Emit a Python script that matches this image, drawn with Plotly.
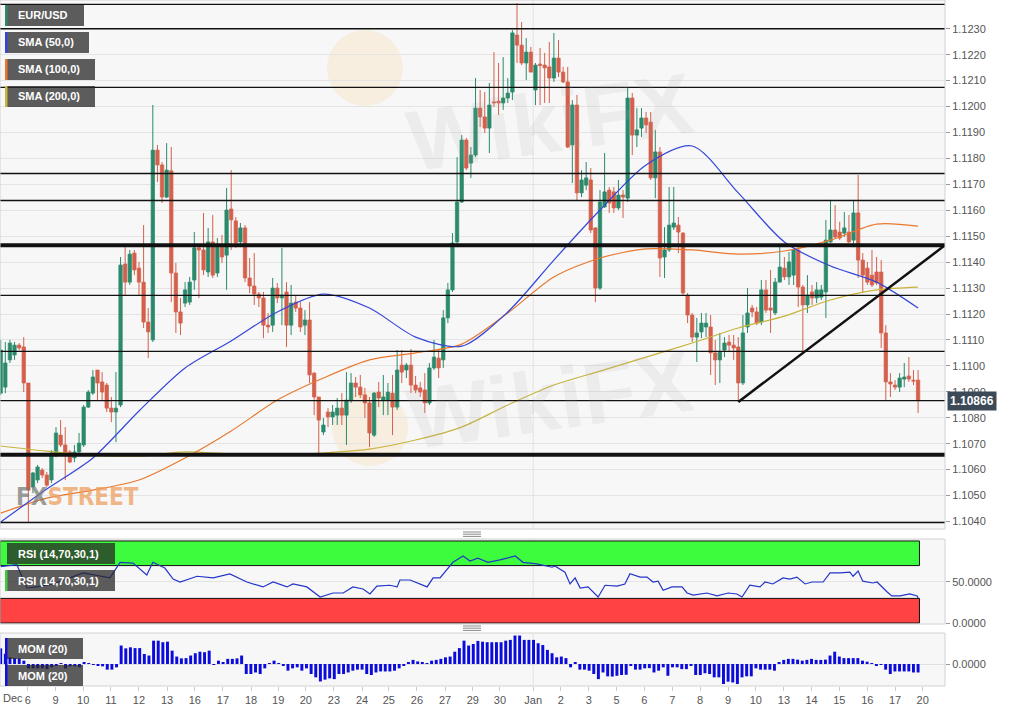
import plotly.graph_objects as go

# ---------------- DATA (EUR/USD, 4h candles, Dec 6 - Jan 20) ----------------
opens = [
1.10895, 1.10918, 1.11023, 1.11042, 1.11080, 1.11073, 1.10934, 1.10533, 1.10560, 1.10598,
1.10579, 1.10560, 1.10656, 1.10733, 1.10695, 1.10668, 1.10645, 1.10668, 1.10695, 1.10841,
1.10895, 1.10984, 1.10938, 1.10926, 1.10837, 1.10822, 1.10849, 1.11393, 1.11323, 1.11435,
1.11377, 1.11323, 1.11169, 1.11100, 1.11832, 1.11775, 1.11651, 1.11752, 1.11358, 1.11208,
1.11242, 1.11246, 1.11331, 1.11455, 1.11447, 1.11362, 1.11478, 1.11358, 1.11458, 1.11427,
1.11605, 1.11559, 1.11478, 1.11532, 1.11339, 1.11308, 1.11277, 1.11262, 1.11157, 1.11157,
1.11300, 1.11262, 1.11285, 1.11157, 1.11246, 1.11223, 1.11157, 1.11177, 1.10972, 1.10880,
1.10745, 1.10822, 1.10803, 1.10810, 1.10837, 1.10810, 1.10868, 1.10934, 1.10918, 1.10888,
1.10857, 1.10733, 1.10899, 1.10868, 1.10868, 1.10895, 1.10841, 1.11003, 1.10984, 1.11003,
1.10926, 1.10915, 1.10907, 1.10857, 1.10992, 1.11030, 1.11023, 1.11185, 1.11293, 1.11478,
1.11632, 1.11871, 1.11782, 1.11813, 1.11994, 1.11960, 1.11917, 1.12018, 1.12021, 1.12014,
1.12033, 1.12056, 1.12276, 1.12237, 1.12168, 1.12210, 1.12064, 1.12164, 1.12160, 1.12153,
1.12110, 1.12187, 1.12133, 1.12095, 1.11852, 1.12006, 1.11667, 1.11697, 1.11717, 1.11532,
1.11300, 1.11613, 1.11678, 1.11671, 1.11609, 1.11659, 1.11647, 1.12033, 1.11890, 1.11917,
1.11956, 1.11940, 1.11725, 1.11825, 1.11420, 1.11447, 1.11535, 1.11543, 1.11512, 1.11273,
1.11196, 1.11111, 1.11131, 1.11150, 1.11150, 1.11050, 1.11023, 1.11061, 1.11092, 1.11080,
1.11073, 1.10934, 1.11150, 1.11223, 1.11208, 1.11169, 1.11293, 1.11223, 1.11204, 1.11323,
1.11377, 1.11343, 1.11350, 1.11447, 1.11304, 1.11235, 1.11285, 1.11262, 1.11265, 1.11285,
1.11478, 1.11524, 1.11516, 1.11512, 1.11516, 1.11485, 1.11590, 1.11408, 1.11377, 1.11350,
1.11362, 1.11362, 1.11127, 1.10938, 1.10926, 1.10918, 1.10949, 1.10961, 1.10945, 1.10945,
]
highs = [
1.11100, 1.11092, 1.11100, 1.11092, 1.11088, 1.11111, 1.10934, 1.10591, 1.10618, 1.10606,
1.10591, 1.10675, 1.10764, 1.10791, 1.10764, 1.10675, 1.10695, 1.10741, 1.10849, 1.10907,
1.10984, 1.10984, 1.10976, 1.10934, 1.10880, 1.10976, 1.11420, 1.11458, 1.11447, 1.11447,
1.11401, 1.11543, 1.11223, 1.12006, 1.11852, 1.11786, 1.11859, 1.11844, 1.11397, 1.11262,
1.11323, 1.11343, 1.11516, 1.11458, 1.11590, 1.11532, 1.11582, 1.11493, 1.11505, 1.11686,
1.11755, 1.11574, 1.11551, 1.11543, 1.11416, 1.11435, 1.11285, 1.11285, 1.11204, 1.11339,
1.11320, 1.11455, 1.11323, 1.11312, 1.11273, 1.11246, 1.11215, 1.11246, 1.10976, 1.10880,
1.10799, 1.10837, 1.10849, 1.10876, 1.10895, 1.10976, 1.10972, 1.10957, 1.10965, 1.10915,
1.10880, 1.10899, 1.10938, 1.10965, 1.10934, 1.10965, 1.11061, 1.11061, 1.11011, 1.11065,
1.10961, 1.10938, 1.10972, 1.11011, 1.11100, 1.11061, 1.11215, 1.11320, 1.11512, 1.11805,
1.11890, 1.11879, 1.11844, 1.12110, 1.12064, 1.12056, 1.12091, 1.12210, 1.12168, 1.12191,
1.12110, 1.12295, 1.12399, 1.12326, 1.12264, 1.12230, 1.12168, 1.12226, 1.12207, 1.12249,
1.12284, 1.12257, 1.12153, 1.12153, 1.12025, 1.12045, 1.11755, 1.11786, 1.11763, 1.11535,
1.11678, 1.11821, 1.11690, 1.11690, 1.11717, 1.11678, 1.12072, 1.12052, 1.11994, 1.11994,
1.11979, 1.11979, 1.11910, 1.11844, 1.11535, 1.11690, 1.11690, 1.11574, 1.11516, 1.11281,
1.11204, 1.11185, 1.11204, 1.11204, 1.11196, 1.11100, 1.11127, 1.11111, 1.11119, 1.11119,
1.11111, 1.11196, 1.11300, 1.11235, 1.11227, 1.11331, 1.11331, 1.11370, 1.11339, 1.11458,
1.11420, 1.11439, 1.11427, 1.11458, 1.11312, 1.11350, 1.11312, 1.11323, 1.11312, 1.11563,
1.11640, 1.11620, 1.11556, 1.11593, 1.11582, 1.11640, 1.11736, 1.11435, 1.11401, 1.11447,
1.11420, 1.11408, 1.11157, 1.10972, 1.10945, 1.10972, 1.11011, 1.11034, 1.10984, 1.10984,
]
lows = [
1.10888, 1.10895, 1.11011, 1.11023, 1.11061, 1.10899, 1.10398, 1.10509, 1.10548, 1.10567,
1.10533, 1.10548, 1.10648, 1.10687, 1.10560, 1.10625, 1.10629, 1.10664, 1.10687, 1.10837,
1.10888, 1.10868, 1.10868, 1.10822, 1.10783, 1.10706, 1.10841, 1.11273, 1.11312, 1.11350,
1.11273, 1.11146, 1.11030, 1.11092, 1.11709, 1.11628, 1.11647, 1.11246, 1.11127, 1.11119,
1.11227, 1.11235, 1.11293, 1.11262, 1.11350, 1.11343, 1.11339, 1.11343, 1.11397, 1.11293,
1.11447, 1.11455, 1.11458, 1.11323, 1.11281, 1.11235, 1.11227, 1.11107, 1.11127, 1.11131,
1.11242, 1.11157, 1.11073, 1.11119, 1.11208, 1.11131, 1.11119, 1.10934, 1.10810, 1.10664,
1.10733, 1.10764, 1.10772, 1.10772, 1.10772, 1.10695, 1.10857, 1.10880, 1.10876, 1.10799,
1.10687, 1.10726, 1.10841, 1.10810, 1.10810, 1.10733, 1.10830, 1.10934, 1.10953, 1.10895,
1.10895, 1.10880, 1.10818, 1.10849, 1.10984, 1.10953, 1.10992, 1.11165, 1.11285, 1.11458,
1.11628, 1.11755, 1.11725, 1.11805, 1.11921, 1.11898, 1.11821, 1.11998, 1.11967, 1.11987,
1.12014, 1.12025, 1.12168, 1.12160, 1.12102, 1.12133, 1.12006, 1.12006, 1.12014, 1.12014,
1.12095, 1.12114, 1.12091, 1.11840, 1.11705, 1.11640, 1.11651, 1.11678, 1.11512, 1.11246,
1.11293, 1.11609, 1.11590, 1.11590, 1.11601, 1.11570, 1.11632, 1.11813, 1.11844, 1.11883,
1.11898, 1.11717, 1.11647, 1.11343, 1.11339, 1.11439, 1.11524, 1.11435, 1.11273, 1.11165,
1.11092, 1.11015, 1.11107, 1.11111, 1.10965, 1.10926, 1.10934, 1.11034, 1.11053, 1.11023,
1.10861, 1.10926, 1.11127, 1.11188, 1.11157, 1.11157, 1.11204, 1.11127, 1.11196, 1.11323,
1.11331, 1.11312, 1.11312, 1.11227, 1.11053, 1.11204, 1.11235, 1.11242, 1.11254, 1.11185,
1.11474, 1.11493, 1.11485, 1.11497, 1.11474, 1.11458, 1.11339, 1.11281, 1.11312, 1.11304,
1.11312, 1.11069, 1.10868, 1.10880, 1.10907, 1.10899, 1.10918, 1.10938, 1.10926, 1.10818,
]
closes = [
1.11061, 1.11011, 1.11088, 1.11080, 1.11069, 1.10934, 1.10521, 1.10587, 1.10610, 1.10579,
1.10540, 1.10664, 1.10741, 1.10695, 1.10656, 1.10629, 1.10668, 1.10702, 1.10841, 1.10899,
1.10957, 1.10934, 1.10899, 1.10837, 1.10822, 1.10837, 1.11389, 1.11323, 1.11431, 1.11370,
1.11323, 1.11169, 1.11131, 1.11832, 1.11775, 1.11651, 1.11755, 1.11358, 1.11208, 1.11165,
1.11293, 1.11323, 1.11455, 1.11447, 1.11370, 1.11478, 1.11350, 1.11458, 1.11420, 1.11601,
1.11563, 1.11474, 1.11532, 1.11339, 1.11308, 1.11277, 1.11262, 1.11157, 1.11150, 1.11300,
1.11262, 1.11273, 1.11157, 1.11242, 1.11223, 1.11150, 1.11177, 1.10965, 1.10880, 1.10791,
1.10772, 1.10803, 1.10822, 1.10837, 1.10810, 1.10868, 1.10934, 1.10918, 1.10888, 1.10857,
1.10741, 1.10895, 1.10876, 1.10880, 1.10899, 1.10841, 1.10984, 1.10976, 1.11003, 1.10926,
1.10907, 1.10899, 1.10857, 1.10992, 1.11034, 1.10992, 1.11185, 1.11293, 1.11474, 1.11632,
1.11871, 1.11763, 1.11813, 1.11994, 1.11960, 1.11917, 1.12006, 1.12014, 1.12014, 1.12033,
1.12052, 1.12284, 1.12237, 1.12168, 1.12210, 1.12133, 1.12160, 1.12158, 1.12149, 1.12110,
1.12187, 1.12133, 1.12095, 1.11844, 1.12006, 1.11667, 1.11717, 1.11725, 1.11524, 1.11300,
1.11632, 1.11671, 1.11628, 1.11609, 1.11659, 1.11651, 1.12033, 1.11890, 1.11910, 1.11956,
1.11929, 1.11725, 1.11825, 1.11416, 1.11447, 1.11543, 1.11551, 1.11516, 1.11281, 1.11196,
1.11111, 1.11127, 1.11165, 1.11165, 1.11050, 1.11023, 1.11053, 1.11088, 1.11080, 1.11069,
1.10934, 1.11127, 1.11204, 1.11208, 1.11165, 1.11293, 1.11215, 1.11215, 1.11323, 1.11381,
1.11343, 1.11401, 1.11447, 1.11304, 1.11235, 1.11273, 1.11262, 1.11293, 1.11293, 1.11485,
1.11524, 1.11497, 1.11493, 1.11532, 1.11478, 1.11590, 1.11408, 1.11350, 1.11323, 1.11312,
1.11320, 1.11127, 1.10938, 1.10930, 1.10918, 1.10953, 1.10957, 1.10949, 1.10941, 1.10866,
]

# Moving averages read at every 10th candle
sma_idx = [0, 10, 20, 30, 40, 50, 60, 70, 80, 90, 100, 110, 120, 130, 140, 150, 160, 170, 180, 190, 199]
sma50 = [1.10398, 1.10525, 1.10645, 1.10826, 1.10992, 1.11096, 1.11208, 1.11277, 1.11223, 1.11111, 1.11076,
         1.11208, 1.11408, 1.11601, 1.11775, 1.11848, 1.11667, 1.11478, 1.11385, 1.11323, 1.11223]
sma100 = [1.10432, 1.10490, 1.10521, 1.10560, 1.10645, 1.10749, 1.10868, 1.10953, 1.11023, 1.11050, 1.11084,
          1.11204, 1.11343, 1.11416, 1.11451, 1.11447, 1.11431, 1.11443, 1.11485, 1.11547, 1.11539]
sma200 = [1.10691, 1.10671, 1.10656, 1.10652, 1.10668, 1.10660, 1.10656, 1.10664, 1.10679, 1.10714, 1.10764,
          1.10849, 1.10926, 1.10980, 1.11034, 1.11088, 1.11146, 1.11192, 1.11254, 1.11293, 1.11304]

# RSI (14) read along the time axis (candle units)
rsi_x = [0, 3.5, 5.7, 7.9, 11.3, 17.9, 23.7, 25.9, 28.7, 31.7, 33.0, 35.6, 37.4, 38.9, 42.6, 46.1, 49.7, 53.4,
         56.9, 59.1, 62.1, 63.4, 66.4, 69.3, 72.1, 74.3, 76.4, 78.6, 80.1, 81.6, 84.4, 86.0, 86.6, 88.8, 92.5,
         93.8, 95.3, 98.1, 100.3, 101.8, 103.5, 105.7, 108.3, 111.6, 113.3, 116.3, 119.6, 120.2, 122.4, 123.5,
         124.6, 125.7, 127.4, 129.6, 131.1, 133.7, 135.4, 136.5, 138.7, 140.2, 141.5, 142.6, 143.7, 145.6,
         147.8, 148.9, 150.2, 153.2, 155.4, 157.8, 159.7, 160.8, 162.5, 164.7, 165.8, 167.5, 169.7, 171.2,
         172.7, 174.5, 176.0, 178.4, 179.9, 182.1, 184.2, 184.9, 186.0, 187.0, 189.2, 190.1, 192.3, 193.3,
         195.1, 197.2, 198.8, 199.0]
rsi = [68.7, 71, 42.7, 44, 47.6, 61, 55, 74, 73, 58.5, 74, 67, 53.6, 50, 57, 55, 59.8, 50, 44, 50, 44, 47.6,
       44, 31.7, 36.6, 36.6, 44, 41.5, 35.4, 45, 46, 44, 52.4, 52.4, 44, 55, 55, 74, 81.7, 75.6, 79, 74, 77,
       81.7, 74, 72, 68, 69.5, 62, 47.6, 55, 42.7, 44, 31.7, 46, 45, 47.6, 60, 56, 56, 50, 51, 40, 44, 44,
       36.6, 34, 36.6, 33, 36.6, 35.4, 31.7, 46, 44, 50, 47.6, 55, 53.6, 56, 47.6, 50, 50, 61, 61, 62, 57,
       63.4, 51, 48.8, 50, 37.8, 33, 33, 35.4, 33, 30.5]
rsi_levels = [70, 30]

# Momentum (20) per bar
mom = [
0.0061, 0.0040, 0.0026, 0.0023, 0.0022, 0.0013, -0.0017, -0.0017, -0.0017, -0.0017,
-0.0020, -0.0013, -0.0007, 0.0001, -0.0017, -0.0009, -0.0009, -0.0013, 0.0004, 0.0003,
-0.0001, -0.0007, -0.0009, -0.0022, -0.0022, -0.0013, 0.0072, 0.0061, 0.0065, 0.0062,
0.0062, 0.0039, 0.0033, 0.0091, 0.0091, 0.0085, 0.0087, 0.0052, 0.0029, 0.0022,
0.0023, 0.0033, 0.0042, 0.0048, 0.0046, 0.0052, -0.0001, 0.0013, 0.0004, 0.0020,
0.0020, 0.0022, 0.0033, -0.0039, -0.0039, -0.0033, -0.0039, -0.0017, 0.0003, 0.0013,
0.0003, -0.0004, -0.0026, -0.0017, -0.0013, -0.0026, -0.0017, -0.0039, -0.0052, -0.0068,
-0.0061, -0.0056, -0.0059, -0.0039, -0.0039, -0.0033, -0.0026, -0.0022, -0.0022, -0.0039,
-0.0043, -0.0033, -0.0029, -0.0029, -0.0029, -0.0026, -0.0017, -0.0004, 0.0007, 0.0016,
0.0010, 0.0007, 0.0001, 0.0013, 0.0016, 0.0020, 0.0026, 0.0029, 0.0048, 0.0062,
0.0091, 0.0072, 0.0078, 0.0090, 0.0087, 0.0085, 0.0085, 0.0085,
0.0085, 0.0091, 0.0094, 0.0111, 0.0111, 0.0094, 0.0094, 0.0094, 0.0081, 0.0074,
0.0055, 0.0042, 0.0026, 0.0029, 0.0023, -0.0013, 0.0007, -0.0022, -0.0022, -0.0026,
-0.0039, -0.0059, -0.0033, -0.0048, -0.0049, -0.0046, -0.0043, -0.0042, -0.0007, -0.0022,
-0.0022, -0.0017, -0.0016, -0.0033, -0.0026, -0.0013, -0.0046, -0.0013, -0.0013, -0.0020,
-0.0020, -0.0007, -0.0043, -0.0043, -0.0036, -0.0039, -0.0052, -0.0052, -0.0078, -0.0069,
-0.0072, -0.0078, -0.0052, -0.0048, -0.0048, -0.0017, -0.0022, -0.0022, -0.0022, -0.0026,
0.0007, 0.0016, 0.0020, 0.0020, 0.0017, 0.0013, 0.0016, 0.0020, 0.0016, 0.0016,
0.0017, 0.0033, 0.0048, 0.0029, 0.0023, 0.0023, 0.0023, 0.0023, 0.0013, 0.0009,
0.0003, -0.0004, -0.0001, -0.0022, -0.0039, -0.0029, -0.0029, -0.0029, -0.0029, -0.0033, -0.0033,
]

# Support / resistance levels
minor_levels = [1.12394, 1.12300, 1.12074, 1.11742, 1.11638, 1.11272, 1.11056, 1.10866, 1.10396]
major_levels = [1.11465, 1.10657]
trend_start = (160, 1.10861)
trend_end_price = 1.11465

# Axis ticks
price_ticks = [1.1040, 1.1050, 1.1060, 1.1070, 1.1080, 1.1090, 1.1100, 1.1110, 1.1120, 1.1130,
               1.1140, 1.1150, 1.1160, 1.1170, 1.1180, 1.1190, 1.1200, 1.1210, 1.1220, 1.1230]
tick_pos = [5.9, 11.9, 17.9, 23.9, 30.0, 36.1, 42.1, 48.2, 54.3, 60.2, 66.2, 72.3, 78.4, 84.2, 90.3, 96.4,
            102.4, 108.3, 115.5, 121.5, 127.6, 133.6, 139.6, 145.7, 151.7, 157.8, 163.8, 169.9, 175.9,
            181.9, 188.0, 194.0, 200.0]
tick_text = ["6", "9", "10", "11", "12", "13", "16", "17", "18", "19", "20", "23", "24", "25", "26", "27",
             "29", "30", "Jan", "2", "3", "5", "6", "7", "8", "9", "10", "13", "14", "15", "16", "17", "20"]
month_jan_pos = 115.5

# ---------------- LAYOUT HELPERS ----------------
W, H = 1016, 711
PLOT_R = 945
PX_PER_CANDLE = 4.61
PX_PER_PRICE = 25930.0
TOP_PRICE = 1.12411


def px(x):
    return x / W


def py(y):
    return 1 - y / H


x_lo = -0.15
x_hi = x_lo + PLOT_R / PX_PER_CANDLE
dom_x = [0, PLOT_R / W]

UP = "#2b8a6c"
DN = "#d4604c"
FONT = "Liberation Sans, Arial, sans-serif"

fig = go.Figure()

# candles: wicks then bodies
n = len(closes)
idx = list(range(n))
is_up = [c >= o for o, c in zip(opens, closes)]
for flag, col in ((True, UP), (False, DN)):
    wx, wy = [], []
    for i in idx:
        if is_up[i] == flag:
            wx += [i, i, None]
            wy += [lows[i], highs[i], None]
    fig.add_trace(go.Scatter(x=wx, y=wy, mode="lines", line=dict(color=col, width=1),
                             hoverinfo="skip", showlegend=False, xaxis="x", yaxis="y"))
cols = [UP if u else DN for u in is_up]
fig.add_trace(go.Bar(x=idx, base=opens, y=[c - o for o, c in zip(opens, closes)], width=0.74,
                     marker=dict(color=cols, line=dict(color=cols, width=0.7)),
                     showlegend=False, xaxis="x", yaxis="y"))

# moving averages
for vals, col in ((sma200, "#c8b43c"), (sma100, "#e8782e"), (sma50, "#3546d8")):
    fig.add_trace(go.Scatter(x=sma_idx, y=vals, mode="lines", line=dict(color=col, width=1.2, shape="spline",
                                                                        smoothing=0.8),
                             showlegend=False, xaxis="x", yaxis="y"))

# RSI
fig.add_trace(go.Scatter(x=rsi_x, y=rsi, mode="lines", line=dict(color="#2236c8", width=1.2),
                         showlegend=False, xaxis="x2", yaxis="y2"))

# MOM
mom_x = [j * (n - 1) / (len(mom) - 1) for j in range(len(mom))]
fig.add_trace(go.Bar(x=mom_x, y=mom, width=0.64, marker=dict(color="#0b0bdc", line=dict(width=0)),
                     showlegend=False, xaxis="x3", yaxis="y3"))

axis_font = dict(family=FONT, size=11, color="#555555")
fig.update_layout(
    width=W, height=H, margin=dict(l=0, r=0, t=0, b=0),
    paper_bgcolor="white", plot_bgcolor="#f7f7f7", showlegend=False, barmode="overlay",
    xaxis=dict(domain=dom_x, range=[x_lo, x_hi], anchor="y", showticklabels=False, showgrid=False,
               zeroline=False, fixedrange=True),
    yaxis=dict(domain=[py(529), 1], range=[TOP_PRICE - 529 / PX_PER_PRICE, TOP_PRICE], anchor="x",
               side="right", tickvals=price_ticks, tickformat=".4f", tickfont=axis_font,
               showgrid=True, gridcolor="#e4e4e4", gridwidth=1, zeroline=False,
               ticks="outside", ticklen=4, tickcolor="#999999", automargin=False),
    xaxis2=dict(domain=dom_x, range=[x_lo, x_hi], anchor="y2", showticklabels=False, showgrid=False,
                zeroline=False),
    yaxis2=dict(domain=[py(624), py(539)], range=[-1.2, 102.4], anchor="x2", side="right",
                tickvals=[0, 50], ticktext=["0.0000", "50.0000"], tickfont=axis_font,
                showgrid=True, gridcolor="#e4e4e4", zeroline=False, ticks="outside", ticklen=4,
                tickcolor="#999999", automargin=False),
    xaxis3=dict(domain=dom_x, range=[x_lo, x_hi], anchor="y3", tickvals=tick_pos, ticktext=tick_text,
                tickfont=dict(family=FONT, size=11, color="#555555"), showgrid=False, zeroline=False,
                ticks="outside", ticklen=4, tickcolor="#cccccc", automargin=False),
    yaxis3=dict(domain=[py(686), py(633)], range=[-0.00858, 0.01209], anchor="x3", side="right",
                tickvals=[0], tickformat=".4f", tickfont=axis_font, showgrid=True, gridcolor="#e0e0e0",
                zeroline=False, ticks="outside", ticklen=4, tickcolor="#999999", automargin=False),
)

shapes = []
annots = []

# watermark logos (faint)
for cx, cy in ((365, 68), (370, 428)):
    shapes.append(dict(type="circle", xref="paper", yref="paper", x0=px(cx - 38), x1=px(cx + 38),
                       y0=py(cy + 38), y1=py(cy - 38), fillcolor="rgba(246,222,180,0.35)",
                       line=dict(width=0), layer="below"))
for cy in (52, 400):
    annots.append(dict(text="<b>WikiFX</b>", xref="paper", yref="paper", x=px(550), y=py(cy),
                       showarrow=False, textangle=-8,
                       font=dict(family=FONT, size=86, color="rgba(170,160,160,0.13)")))

# Jan vertical gridline
for yr in ("y domain", "y2 domain", "y3 domain"):
    shapes.append(dict(type="line", xref="x", yref=yr, x0=month_jan_pos, x1=month_jan_pos, y0=0, y1=1,
                       line=dict(color="#e2e2e2", width=1), layer="below"))

# RSI zones
shapes.append(dict(type="rect", xref="x2", yref="y2", x0=x_lo, x1=n - 0.7, y0=rsi_levels[0], y1=100,
                   fillcolor="#3dfc3d", line=dict(color="#111111", width=1), layer="below"))
shapes.append(dict(type="rect", xref="x2", yref="y2", x0=x_lo, x1=n - 0.7, y0=0, y1=rsi_levels[1],
                   fillcolor="#ff4242", line=dict(color="#111111", width=1), layer="below"))

# horizontal levels
for lv in minor_levels:
    shapes.append(dict(type="line", xref="x domain", yref="y", x0=0, x1=1, y0=lv, y1=lv,
                       line=dict(color="#111111", width=1.4), layer="above"))
for lv in major_levels:
    shapes.append(dict(type="line", xref="x domain", yref="y", x0=0, x1=1, y0=lv, y1=lv,
                       line=dict(color="#111111", width=4), layer="above"))
# trend line
shapes.append(dict(type="line", xref="x", yref="y", x0=trend_start[0], y0=trend_start[1],
                   x1=x_hi, y1=trend_end_price, line=dict(color="#111111", width=2.5), layer="above"))

# panel frames
for (t, b) in ((0, 529), (539, 624), (633, 686)):
    shapes.append(dict(type="rect", xref="paper", yref="paper", x0=0, x1=px(PLOT_R), y0=py(b), y1=py(t),
                       line=dict(color="#d2d2d2", width=1), fillcolor="rgba(0,0,0,0)", layer="above"))
# splitter grips
for yb in (532, 626):
    for k in range(3):
        shapes.append(dict(type="line", xref="paper", yref="paper", x0=px(463), x1=px(481),
                           y0=py(yb + 2.2 * k), y1=py(yb + 2.2 * k), line=dict(color="#8a8a8a", width=1)))

# label boxes
BOX = "rgba(40,40,40,0.75)"


def label(x0, x1, y0, y1, text, strip=None, fill=BOX):
    shapes.append(dict(type="rect", xref="paper", yref="paper", x0=px(x0), x1=px(x1), y0=py(y1), y1=py(y0),
                       fillcolor=fill, line=dict(width=0), layer="above"))
    if strip:
        shapes.append(dict(type="rect", xref="paper", yref="paper", x0=px(x0), x1=px(x0 + 2.5),
                           y0=py(y1), y1=py(y0), fillcolor=strip, line=dict(width=0), layer="above"))
    annots.append(dict(text="<b>%s</b>" % text, xref="paper", yref="paper", x=px(16), y=py((y0 + y1) / 2),
                       xanchor="left", yanchor="middle", showarrow=False,
                       font=dict(family=FONT, size=11, color="white")))


label(5, 84, 5, 26, "EUR/USD", UP)
label(5, 89, 32, 53, "SMA (50,0)", "#3546d8")
label(5, 95, 59, 80, "SMA (100,0)", "#e8782e")
label(5, 95, 86, 107, "SMA (200,0)", "#c8b43c")
label(7, 115, 543, 564, "RSI (14,70,30,1)")
label(5, 115, 570, 591, "RSI (14,70,30,1)", "#3dcc3d")
label(7, 83, 638, 659, "MOM (20)")
label(5, 83, 665, 686, "MOM (20)")
shapes.append(dict(type="rect", xref="paper", yref="paper", x0=px(5), x1=px(7.5), y0=py(686), y1=py(638),
                   fillcolor="#1010dd", line=dict(width=0), layer="above"))

# FXSTREET logo
annots.append(dict(text="<b><span style='color:rgba(125,125,125,0.75)'>FX</span>"
                        "<span style='color:rgba(238,160,95,0.75)'>STREET</span></b>",
                   xref="paper", yref="paper", x=px(14), y=py(497), xanchor="left", yanchor="middle",
                   showarrow=False,
                   font=dict(family="Liberation Sans Narrow, DejaVu Sans Condensed, sans-serif", size=24)))

# last price tag
annots.append(dict(text="<b>%.5f</b>" % closes[-1], xref="paper", yref="y", x=px(947), y=closes[-1],
                   xanchor="left", yanchor="middle", showarrow=False, bgcolor="#3c4a58", borderpad=2,
                   font=dict(family=FONT, size=12, color="white")))
# month label
annots.append(dict(text="Dec", xref="paper", yref="paper", x=px(1), y=py(698), xanchor="left",
                   yanchor="middle", showarrow=False, font=dict(family=FONT, size=11, color="#555555")))

fig.update_layout(shapes=shapes, annotations=annots)
fig.write_html("out.html", config={"displayModeBar": False},
               post_script="document.body.style.margin='0';document.body.style.overflow='hidden';")
